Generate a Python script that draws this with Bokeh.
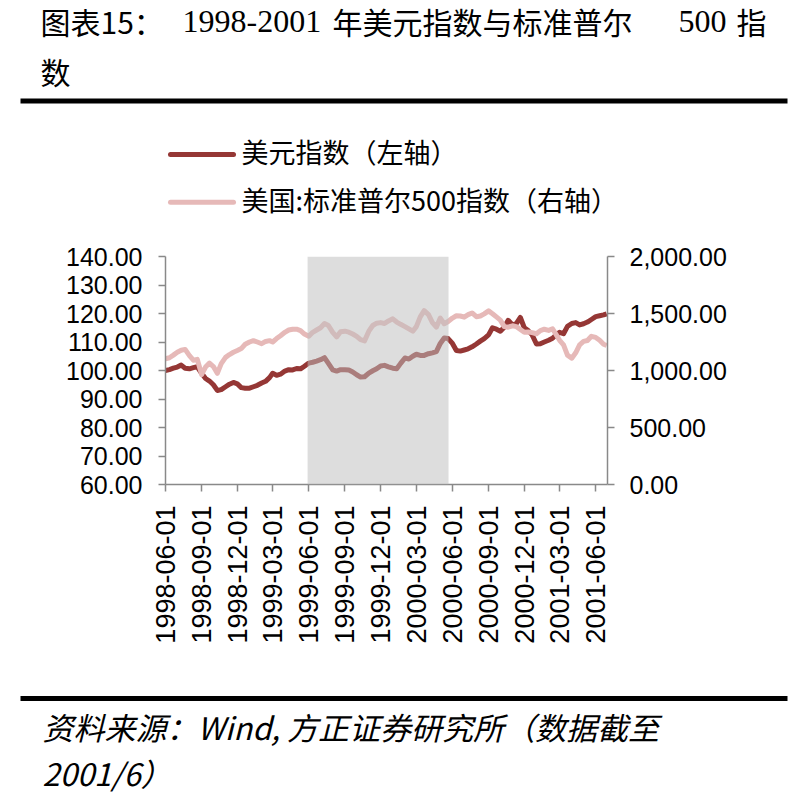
import math
import pandas as pd
from bokeh.plotting import figure
from bokeh.models import (Range1d, LinearAxis, FixedTicker, NumeralTickFormatter,
                          DatetimeTickFormatter, BoxAnnotation, ColumnDataSource)
from bokeh.layouts import column
from bokeh.embed import file_html
from bokeh.resources import INLINE
from bokeh.core.properties import value

# ---------------- data ----------------
dates = [
    "1998-06-01", "1998-06-11", "1998-06-21", "1998-07-01", "1998-07-11", "1998-07-21",
    "1998-08-01", "1998-08-11", "1998-08-21", "1998-09-01", "1998-09-11", "1998-09-21",
    "1998-10-01", "1998-10-11", "1998-10-21", "1998-11-01", "1998-11-11", "1998-11-21",
    "1998-12-01", "1998-12-11", "1998-12-21", "1999-01-01", "1999-01-11", "1999-01-21",
    "1999-02-01", "1999-02-11", "1999-02-21", "1999-03-01", "1999-03-11", "1999-03-21",
    "1999-04-01", "1999-04-11", "1999-04-21", "1999-05-01", "1999-05-11", "1999-05-21",
    "1999-06-01", "1999-06-11", "1999-06-21", "1999-07-01", "1999-07-11", "1999-07-21",
    "1999-08-01", "1999-08-11", "1999-08-21", "1999-09-01", "1999-09-11", "1999-09-21",
    "1999-10-01", "1999-10-11", "1999-10-21", "1999-11-01", "1999-11-11", "1999-11-21",
    "1999-12-01", "1999-12-11", "1999-12-21", "2000-01-01", "2000-01-11", "2000-01-21",
    "2000-02-01", "2000-02-11", "2000-02-21", "2000-03-01", "2000-03-11", "2000-03-21",
    "2000-04-01", "2000-04-11", "2000-04-21", "2000-05-01", "2000-05-11", "2000-05-21",
    "2000-06-01", "2000-06-11", "2000-06-21", "2000-07-01", "2000-07-11", "2000-07-21",
    "2000-08-01", "2000-08-11", "2000-08-21", "2000-09-01", "2000-09-11", "2000-09-21",
    "2000-10-01", "2000-10-11", "2000-10-21", "2000-11-01", "2000-11-11", "2000-11-21",
    "2000-12-01", "2000-12-11", "2000-12-21", "2001-01-01", "2001-01-11", "2001-01-21",
    "2001-02-01", "2001-02-11", "2001-02-21", "2001-03-01", "2001-03-11", "2001-03-21",
    "2001-04-01", "2001-04-11", "2001-04-21", "2001-05-01", "2001-05-11", "2001-05-21",
    "2001-06-01", "2001-06-11", "2001-06-21", "2001-06-29",
]

usd_index = [
    100.0, 100.3, 100.8, 101.2, 101.9, 100.8,
    100.6, 101.0, 101.3, 99.0, 97.2, 96.3,
    95.0, 93.0, 93.3, 94.3, 95.2, 95.8,
    95.3, 94.0, 93.8, 93.8, 94.3, 94.8,
    95.6, 96.2, 97.5, 99.0, 98.3, 98.7,
    99.8, 100.3, 100.2, 100.7, 100.6, 101.5,
    102.6, 102.9, 103.3, 103.8, 104.5, 102.5,
    100.2, 99.8, 100.3, 100.3, 100.2, 99.5,
    98.5, 97.7, 97.8, 99.1, 99.9, 100.6,
    101.6, 101.8, 101.3, 100.8, 100.6, 102.5,
    104.4, 104.0, 105.0, 105.7, 105.3, 105.3,
    105.9, 106.2, 106.6, 109.5, 111.4, 111.2,
    109.5, 107.0, 106.8, 107.2, 107.6, 108.3,
    109.3, 110.3, 111.2, 112.5, 115.0, 114.5,
    113.8, 115.2, 117.6, 116.0, 116.5, 118.6,
    115.0, 114.0, 112.5, 109.3, 109.4, 110.0,
    110.6, 111.3, 112.6, 113.4, 112.9, 115.5,
    116.5, 116.8, 116.0, 116.4, 117.0, 117.9,
    118.9, 119.2, 119.5, 119.9,
]

sp500 = [
    1103, 1112, 1135, 1160, 1178, 1185,
    1130, 1090, 1098, 965, 1030, 1065,
    1035, 975, 1060, 1115, 1140, 1160,
    1175, 1192, 1230, 1250, 1262, 1250,
    1235, 1255, 1262, 1250, 1280, 1305,
    1335, 1355, 1362, 1362, 1350, 1320,
    1300, 1335, 1355, 1375, 1412, 1395,
    1335, 1295, 1340, 1345, 1336, 1320,
    1300, 1270, 1260, 1345, 1395, 1415,
    1420, 1412, 1435, 1453, 1425, 1405,
    1385, 1365, 1345, 1385, 1470, 1525,
    1490, 1420, 1380, 1460, 1410, 1430,
    1460, 1480, 1478, 1468, 1490, 1505,
    1472, 1478, 1497, 1523, 1498, 1470,
    1442, 1385, 1380, 1392, 1385, 1360,
    1336, 1338, 1332, 1322, 1350, 1362,
    1352, 1366, 1310, 1265, 1225, 1135,
    1108, 1155, 1225, 1255, 1263, 1300,
    1290, 1265, 1230, 1219,
]

x_tick_labels = ["1998-06-01", "1998-09-01", "1998-12-01", "1999-03-01", "1999-06-01",
                 "1999-09-01", "1999-12-01", "2000-03-01", "2000-06-01", "2000-09-01",
                 "2000-12-01", "2001-03-01", "2001-06-01"]
left_ticks = [60, 70, 80, 90, 100, 110, 120, 130, 140]
right_ticks = [0, 500, 1000, 1500, 2000]
x_start, x_end = "1998-06-01", "2001-07-01"
shade_start, shade_end = "1999-05-29", "2000-05-22"

series_names = ["美元指数（左轴）", "美国:标准普尔500指数（右轴）"]
title_parts = ["图表15：", "1998-2001", "年美元指数与标准普尔", "500", "指"]
title_line2 = "数"
footer_lines = ["资料来源：Wind, 方正证券研究所（数据截至", "2001/6）"]

# ---------------- styles ----------------
W = 805
DARK = "#953735"
PINK = "#E6B9B8"
AX = "#898989"
CJK = "Noto Sans CJK SC"


def ms(s):
    return pd.Timestamp(s).value / 1e6


def no_align(fig):
    try:
        fig.frame_align = False
    except Exception:
        pass


# ---------------- top: title + legend ----------------
TOP_H = 238
top = figure(width=W, height=TOP_H, x_range=Range1d(0, W), y_range=Range1d(TOP_H, 0),
             x_axis_location=None, y_axis_location=None, output_backend="svg",
             toolbar_location=None, min_border=0)
top.grid.visible = False
top.outline_line_color = None
no_align(top)
cjk_idx = [0, 2, 4]
num_idx = [1, 3]
tx = [40, 182, 332, 678, 736]
top.text(x=[tx[i] for i in cjk_idx], y=[20] * 3, text=[title_parts[i] for i in cjk_idx],
         text_font=value(CJK), text_font_size="30px", text_baseline="middle",
         text_align="left", text_color="black")
top.text(x=[tx[i] for i in num_idx], y=[21] * 2, text=[title_parts[i] for i in num_idx],
         text_font=value("Liberation Serif"), text_font_size="32px", text_baseline="middle",
         text_align="left", text_color="black")
top.text(x=[40], y=[70], text=[title_line2], text_font=value(CJK), text_font_size="30px",
         text_baseline="middle", text_align="left", text_color="black")
top.segment(x0=[20], y0=[100.5], x1=[787], y1=[100.5], line_color="black", line_width=5)

# legend (manual, above the plot frame)
leg_y = [154, 201.7]
top.segment(x0=[170, 170], y0=leg_y, x1=[233, 233], y1=leg_y, line_color=[DARK, PINK],
            line_width=5, line_cap="round")
top.text(x=[241, 241], y=[151, 198.7], text=series_names, text_font=value(CJK),
         text_font_size="27px", text_baseline="middle", text_align="left", text_color="black")

# ---------------- main chart ----------------
MAIN_H = 440
src = ColumnDataSource(dict(date=pd.to_datetime(dates), usd=usd_index, sp=sp500))

p = figure(width=W, height=MAIN_H, x_axis_type="datetime",
           x_range=Range1d(pd.Timestamp(x_start), pd.Timestamp(x_end)),
           y_range=Range1d(left_ticks[0], left_ticks[-1]),
           output_backend="svg", toolbar_location=None,
           min_border_left=165, min_border_right=198, min_border_top=18, min_border_bottom=194)
no_align(p)
p.extra_y_ranges = {"sp": Range1d(right_ticks[0], right_ticks[-1])}
p.grid.visible = False
p.outline_line_color = None
p.background_fill_color = "white"

r_usd = p.line("date", "usd", source=src, line_color=DARK, line_width=5, line_join="round")
r_sp = p.line("date", "sp", source=src, y_range_name="sp", line_color=PINK, line_width=5,
              line_join="round")

shade = BoxAnnotation(left=ms(shade_start), right=ms(shade_end), fill_color="#BEBEBE",
                      fill_alpha=0.52, line_color=None)
p.add_layout(shade)

right_axis = LinearAxis(y_range_name="sp", ticker=FixedTicker(ticks=right_ticks),
                        formatter=NumeralTickFormatter(format="0,0.00"))
p.add_layout(right_axis, "right")

p.yaxis[0].ticker = FixedTicker(ticks=left_ticks)
p.yaxis[0].formatter = NumeralTickFormatter(format="0.00")
p.xaxis[0].ticker = FixedTicker(ticks=[ms(d) for d in x_tick_labels])
fmt = "%Y-%m-%d"
p.xaxis[0].formatter = DatetimeTickFormatter(days=fmt, months=fmt, years=fmt, hours=fmt,
                                             hourmin=fmt, minutes=fmt, minsec=fmt, seconds=fmt,
                                             milliseconds=fmt, microseconds=fmt)
p.xaxis[0].major_label_orientation = math.pi / 2

for ax in [p.xaxis[0], p.yaxis[0], right_axis]:
    ax.axis_line_color = AX
    ax.axis_line_width = 1.5
    ax.major_tick_line_color = AX
    ax.major_tick_line_width = 1.5
    ax.major_tick_in = 0
    ax.major_tick_out = 7
    ax.minor_tick_line_color = None
    ax.major_label_text_font = "Liberation Sans"
    ax.major_label_text_font_size = "25px"
    ax.major_label_text_color = "black"
p.xaxis[0].major_label_text_font_size = "27px"
p.yaxis[0].major_label_standoff = 16
right_axis.major_label_standoff = 15
p.xaxis[0].major_label_standoff = 14

# ---------------- bottom: source ----------------
BOT_H = 124
bot = figure(width=W, height=BOT_H, x_range=Range1d(0, W), y_range=Range1d(BOT_H, 0),
             x_axis_location=None, y_axis_location=None, output_backend="svg",
             toolbar_location=None, min_border=0)
bot.grid.visible = False
bot.outline_line_color = None
no_align(bot)
bot.segment(x0=[20], y0=[20], x1=[787], y1=[20], line_color="black", line_width=5)
bot.text(x=[42, 42], y=[48, 94], text=footer_lines, text_font=value(CJK),
         text_font_size="31px", text_font_style="italic", text_baseline="middle",
         text_align="left", text_color="black")

layout = column(top, p, bot, spacing=0)
open("out.html", "w").write(file_html(layout, INLINE))
